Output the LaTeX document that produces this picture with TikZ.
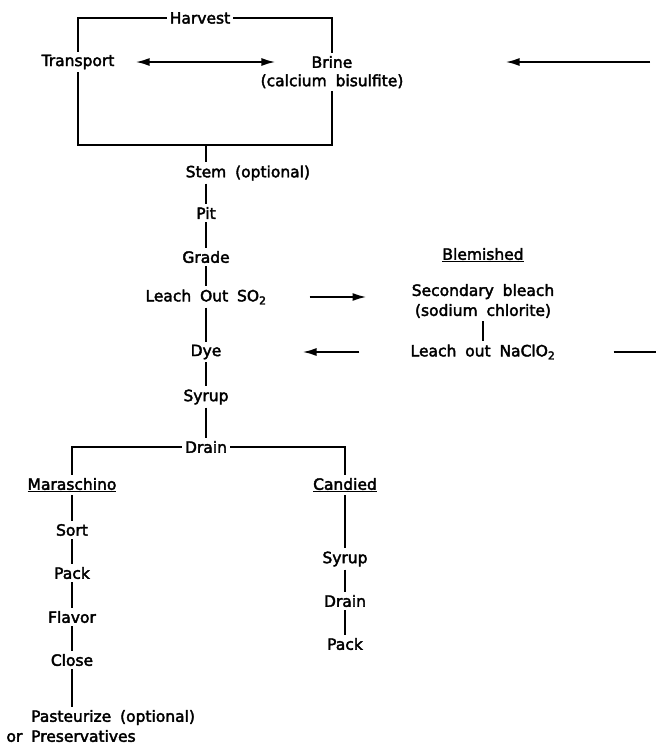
\documentclass[tikz,border=0pt]{standalone}
\usepackage{fontspec}
\setmainfont{DejaVu Sans}[WordSpace=1.8, FakeBold=2.5]
\usepackage{tikz}
\usetikzlibrary{
    arrows.meta,
    positioning
}
\tikzstyle{arrow} = [
    line width=2pt,
    -{Latex[length=14pt,width=8pt]}
]
\tikzstyle{doppelpfeil} = [
    line width=2pt,
    {Latex[length=14pt,width=8pt]}-{Latex[length=14pt,width=8pt]}
]
\tikzstyle{linie} = [
    line width=2pt
]
\tikzstyle{schritt} = [
    font=\fontsize{15.5}{20}\selectfont,
    inner sep=3pt
]

\begin{document}
\begin{tikzpicture}[x=1pt, y=-1pt, every node/.style={schritt}]
% Spalten
\def\links{72}
\def\mitte{206}
\def\candx{345}
\def\rechts{483}

% Rahmen des Bildes
\useasboundingbox (0,0) rectangle (656,745);

% Ernte, Transport und Lake
\node (harvest) at (200,18) {Harvest};
\node (transport) at (78,62) {Transport};
\node (brine) at (332,62) {Brine};
\node[below=0pt of brine] (calcium) {(calcium bisulfite)};
\coordinate (boxunten) at (\mitte,145);
\coordinate (rueckoben) at (650,62);

% Hauptspalte
\node (stem) at (\mitte,173) {Stem\rlap{~(optional)}};
\node (pit) at (\mitte,213) {Pit};
\node (grade) at (\mitte,257) {Grade};
\node (leach) at (\mitte,297) {Leach Out SO\textsubscript{2}};
\node (dye) at (\mitte,352) {Dye};
\node (syrup) at (\mitte,397) {Syrup};
\node (drain) at (\mitte,447) {Drain};

% Beschaedigte Kirschen
\node (blemished) at (\rechts,255) {\underline{Blemished}};
\node[align=center] (bleach) at (\rechts,301)
    {Secondary bleach\\(sodium chlorite)};
\node (naclo) at (\rechts,352) {Leach out NaClO\textsubscript{2}};
\coordinate (rueckunten) at (656,352);

% Maraschino
\node (mara) at (\links,485) {\underline{Maraschino}};
\node (sort) at (\links,530) {Sort};
\node (pack) at (\links,573) {Pack};
\node (flavor) at (\links,617) {Flavor};
\node (close) at (\links,660) {Close};
\node[align=left, anchor=west] (pasteur) at (28,726)
    {Pasteurize\rlap{~(optional)}\\\llap{or~}Preservatives};

% Kandiert
\node (candied) at (\candx,485) {\underline{Candied}};
\node (csyrup) at (\candx,559) {Syrup};
\node (cdrain) at (\candx,601) {Drain};
\node (cpack) at (\candx,644) {Pack};

% Rahmen um Transport und Lake
\draw[linie] (harvest.west) -| (transport.north);
\draw[linie] (harvest.east) -| (brine.north);
\draw[linie] (transport.south) |- (boxunten) -| (calcium.south);
\draw[linie] (boxunten) -- (stem);
\draw[doppelpfeil, shorten <=18pt, shorten >=33pt] (transport) -- (brine);
\draw[arrow, shorten >=150pt] (rueckoben) -- (brine);

% senkrechte Striche
\foreach \a/\b in {stem/pit, pit/grade, grade/leach, leach/dye, dye/syrup,
    syrup/drain, bleach/naclo, mara/sort, sort/pack, pack/flavor,
    flavor/close, candied/csyrup, csyrup/cdrain, cdrain/cpack} {
    \draw[linie] (\a) -- (\b);
}
\draw[linie] (close) -- (close |- pasteur.north);

% Bleiche hin und zurueck
\draw[arrow, shorten <=40pt, shorten >=42pt] (leach.east) -- (leach.east -| bleach.west);
\draw[arrow, shorten <=48pt, shorten >=78pt] (naclo) -- (dye);
\draw[linie, shorten <=55pt] (naclo) -- (rueckunten);

% Verzweigung nach dem Abtropfen
\draw[linie] (drain.west) -| (mara);
\draw[linie] (drain.east) -| (candied);
\end{tikzpicture}
\end{document}
